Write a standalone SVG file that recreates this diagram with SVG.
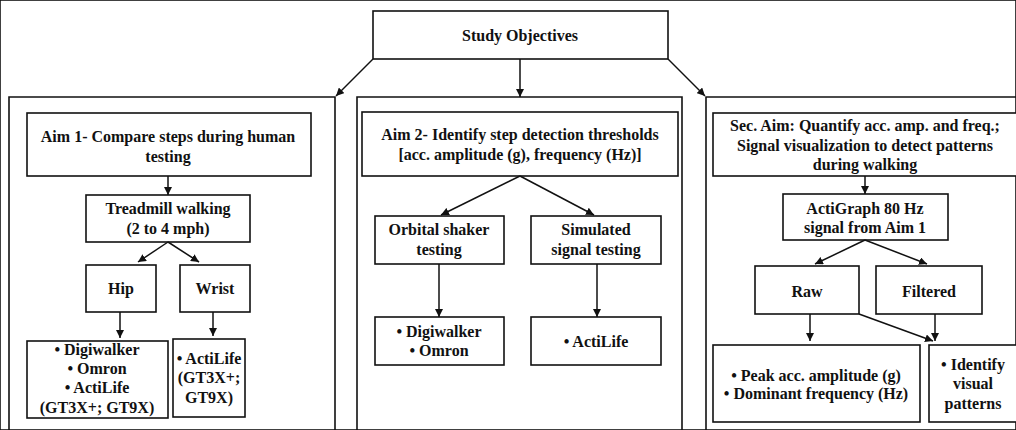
<svg xmlns="http://www.w3.org/2000/svg" width="1016" height="430" viewBox="0 0 1016 430">
<defs>
<marker id="ah" viewBox="0 0 10 10" refX="10" refY="5" markerWidth="8" markerHeight="8" markerUnits="userSpaceOnUse" orient="auto">
<path d="M0,0 L10,5 L0,10 z" fill="#111"/>
</marker>
</defs>
<style>
rect{fill:#fff;stroke:#111;stroke-width:1.6}
.panel{fill:none;stroke:#111;stroke-width:1.6}
text{font-weight:bold;font-size:16px;fill:#111;text-anchor:middle}
.c line{stroke:#111;stroke-width:1.5;marker-end:url(#ah)}
</style>
<rect width="1016" height="430" fill="#fff" stroke="none"/>

<g id="panels">
<path class="panel" d="M9,440 V97 H335 V440"/>
<path class="panel" d="M357,440 V97 H682 V440"/>
<path class="panel" d="M706,440 V97 H1030"/>
</g>

<g font-family="'Liberation Serif', 'Times New Roman', 'DejaVu Serif', serif">
<g id="study-objectives"><rect x="373" y="11" width="295" height="48"/><text x="520" y="41">Study Objectives</text></g>

<g id="aim1"><rect x="27" y="113" width="284" height="63"/><text x="168" y="142">Aim 1- Compare steps during human</text><text x="168" y="162">testing</text></g>
<g id="treadmill"><rect x="86" y="195" width="164" height="47"/><text x="168" y="214">Treadmill walking</text><text x="168" y="234">(2 to 4 mph)</text></g>
<g id="hip"><rect x="86" y="265" width="70" height="47"/><text x="121" y="294">Hip</text></g>
<g id="wrist"><rect x="180" y="265" width="70" height="47"/><text x="215" y="294">Wrist</text></g>
<g id="hip-devices"><rect x="27" y="341" width="141" height="77"/><text x="97" y="355">• Digiwalker</text><text x="97" y="374">• Omron</text><text x="97" y="393">• ActiLife</text><text x="97" y="413">(GT3X+; GT9X)</text></g>
<g id="wrist-devices"><rect x="173" y="339" width="72" height="78"/><text x="209" y="364">• ActiLife</text><text x="209" y="383">(GT3X+;</text><text x="209" y="403">GT9X)</text></g>

<g id="aim2"><rect x="362" y="112" width="316" height="64"/><text x="520" y="140">Aim 2- Identify step detection thresholds</text><text x="520" y="160">[acc. amplitude (g), frequency (Hz)]</text></g>
<g id="orbital"><rect x="375" y="216" width="129" height="48"/><text x="439" y="235">Orbital shaker</text><text x="439" y="255">testing</text></g>
<g id="simulated"><rect x="531" y="216" width="130" height="48"/><text x="596" y="235">Simulated</text><text x="596" y="255">signal testing</text></g>
<g id="orbital-devices"><rect x="375" y="317" width="129" height="48"/><text x="439" y="337">• Digiwalker</text><text x="439" y="356">• Omron</text></g>
<g id="simulated-devices"><rect x="531" y="317" width="130" height="48"/><text x="596" y="347">• ActiLife</text></g>

<g id="sec-aim"><rect x="713" y="113" width="320" height="63"/><text x="865" y="131">Sec. Aim: Quantify acc. amp. and freq.;</text><text x="865" y="151">Signal visualization to detect patterns</text><text x="865" y="170">during walking</text></g>
<g id="actigraph"><rect x="783" y="194" width="165" height="46"/><text x="865" y="214">ActiGraph 80 Hz</text><text x="865" y="233">signal from Aim 1</text></g>
<g id="raw"><rect x="755" y="266" width="104" height="48"/><text x="807" y="297">Raw</text></g>
<g id="filtered"><rect x="876" y="266" width="106" height="48"/><text x="929" y="297">Filtered</text></g>
<g id="peak"><rect x="713" y="345" width="207" height="77"/><text x="816" y="381">• Peak acc. amplitude (g)</text><text x="816" y="399">• Dominant frequency (Hz)</text></g>
<g id="identify"><rect x="929" y="345" width="100" height="77"/><text x="973" y="370">• Identify</text><text x="973" y="389">visual</text><text x="973" y="409">patterns</text></g>
</g>

<g id="connectors" class="c">
<line x1="373" y1="59" x2="336" y2="96"/>
<line x1="520" y1="59" x2="520" y2="97"/>
<line x1="668" y1="59" x2="705" y2="96"/>
<line x1="168" y1="176" x2="168" y2="195"/>
<line x1="168" y1="242" x2="138" y2="262"/>
<line x1="168" y1="242" x2="199" y2="262"/>
<line x1="120" y1="312" x2="120" y2="338"/>
<line x1="213" y1="312" x2="213" y2="336"/>
<line x1="520" y1="176" x2="441" y2="215"/>
<line x1="520" y1="176" x2="594" y2="215"/>
<line x1="439" y1="264" x2="439" y2="317"/>
<line x1="597" y1="264" x2="597" y2="317"/>
<line x1="865" y1="176" x2="865" y2="194"/>
<line x1="865" y1="240" x2="815" y2="264"/>
<line x1="865" y1="240" x2="927" y2="264"/>
<line x1="810" y1="314" x2="810" y2="341"/>
<line x1="859" y1="314" x2="933" y2="341"/>
<line x1="935" y1="314" x2="935" y2="341"/>
</g>
</svg>
